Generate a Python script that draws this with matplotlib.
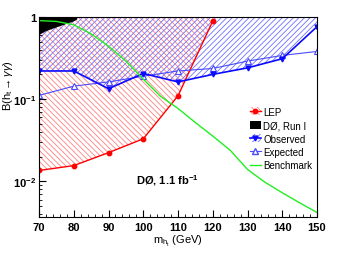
import matplotlib
matplotlib.use("Agg")
import matplotlib.pyplot as plt
from matplotlib.ticker import FixedLocator, MultipleLocator, NullFormatter, FixedFormatter
from matplotlib.patches import Patch
from matplotlib.lines import Line2D

plt.rcParams['font.family'] = ['Liberation Sans', 'DejaVu Sans']
plt.rcParams['mathtext.fontset'] = 'custom'
plt.rcParams['mathtext.rm'] = 'Liberation Sans'
plt.rcParams['mathtext.it'] = 'Liberation Sans:italic'
plt.rcParams['mathtext.bf'] = 'Liberation Sans:bold'
plt.rcParams['hatch.linewidth'] = 0.6

# LEP limit
lep_m = [70, 80, 90, 100, 110, 120]
lep_b = [0.0136, 0.0156, 0.0224, 0.033, 0.11, 0.89]

# DØ Run I excluded corner
run1_m = [70, 72, 76, 80, 81]
run1_b = [0.60, 0.67, 0.77, 0.88, 0.93]

# observed / expected limits
obs_m = [70, 80, 90, 100, 110, 120, 130, 140, 150]
obs_b = [0.22, 0.22, 0.134, 0.205, 0.162, 0.20, 0.24, 0.31, 0.76]
exp_m = [70, 80, 90, 100, 110, 120, 130, 140, 150]
exp_b = [0.111, 0.144, 0.162, 0.19, 0.22, 0.236, 0.29, 0.34, 0.38]

# benchmark model
bench_m = [70, 75, 80, 85, 90, 95, 100, 105, 110, 115, 120, 125, 130, 135, 140, 145, 150]
bench_b = [0.90, 0.88, 0.80, 0.62, 0.44, 0.29, 0.175, 0.108, 0.077, 0.052, 0.0356,
           0.024, 0.014, 0.0098, 0.0073, 0.0055, 0.0042]

red_hatch = '\\\\\\\\\\\\'
blue_hatch = '//////'

fig = plt.figure(figsize=(3.55, 2.55), dpi=100)
ax = fig.add_axes([0.11, 0.145, 0.783, 0.785])

# hatched exclusion regions
ax.fill_between(lep_m, lep_b, 1.0, facecolor='none', edgecolor='#ff8080',
                hatch=red_hatch, linewidth=0)
ax.fill_between(obs_m, obs_b, 1.0, facecolor='none', edgecolor='#7070ff',
                hatch=blue_hatch, linewidth=0)
ax.fill_between(run1_m, run1_b, 1.0, facecolor='black', edgecolor='none', linewidth=0)

ax.plot(lep_m, lep_b, color='red', lw=1, marker='o', ms=3.2)
ax.plot(exp_m, exp_b, color='#4a4aff', lw=0.8, marker='^', ms=4,
        markerfacecolor='white', markeredgecolor='#4a4aff', markeredgewidth=0.8)
ax.plot(obs_m, obs_b, color='#0a0aff', lw=1.2, marker='v', ms=3.5)
ax.plot(bench_m, bench_b, color='#22ee22', lw=1)

ax.set_yscale('log')
ax.set_xlim(70, 150)
ax.set_ylim(0.0037, 1.0)

ax.xaxis.set_major_locator(MultipleLocator(10))
ax.xaxis.set_minor_locator(MultipleLocator(2))
ax.yaxis.set_major_locator(FixedLocator([0.01, 0.1, 1]))
ax.yaxis.set_major_formatter(FixedFormatter([r'$\mathbf{10^{-2}}$', r'$\mathbf{10^{-1}}$', '1']))
minors = [k * 10.0 ** e for e in (-3, -2, -1) for k in range(2, 10)]
ax.yaxis.set_minor_locator(FixedLocator(minors))
ax.yaxis.set_minor_formatter(NullFormatter())
ax.tick_params(which='both', direction='in', top=False, right=False, labelsize=8)
ax.tick_params(which='major', length=5, width=0.8)
ax.tick_params(which='minor', length=2.5, width=0.6)
ax.tick_params(axis='y', pad=2)
for lab in ax.get_xticklabels() + ax.get_yticklabels():
    lab.set_fontweight('bold')

ax.set_xlabel(r'm$_{\mathregular{h_t}}$ (GeV)', fontsize=8, labelpad=1)
ax.set_ylabel(r'B(h$_{\mathregular{t}}$$\rightarrow\gamma\gamma$)', fontsize=8)
ax.yaxis.set_label_coords(-0.088, 0.66)

ax.text(0.35, 0.165, r'DØ, 1.1 fb$^{\mathbf{-1}}$', transform=ax.transAxes,
        fontsize=8, fontweight='bold')

h_lep = (Patch(facecolor='none', edgecolor='#ff8080', hatch=red_hatch, linewidth=0),
         Line2D([], [], color='red', lw=1, marker='o', ms=3.2))
h_run1 = Patch(facecolor='black', edgecolor='none')
h_obs = (Patch(facecolor='none', edgecolor='#7070ff', hatch=blue_hatch, linewidth=0),
         Line2D([], [], color='#0a0aff', lw=1.2, marker='v', ms=3.5))
h_exp = Line2D([], [], color='#4a4aff', lw=0.8, marker='^', ms=4,
               markerfacecolor='white', markeredgecolor='#4a4aff')
h_ben = Line2D([], [], color='#22ee22', lw=1)
ax.legend([h_lep, h_run1, h_obs, h_exp, h_ben],
          ['LEP', 'DØ, Run I', 'Observed', 'Expected', 'Benchmark'],
          loc='upper left', bbox_to_anchor=(0.74, 0.575), frameon=False,
          fontsize=7, handlelength=1.2, handleheight=0.9, handletextpad=0.2,
          labelspacing=0.35, borderpad=0)

fig.savefig('out.png', dpi=100)
